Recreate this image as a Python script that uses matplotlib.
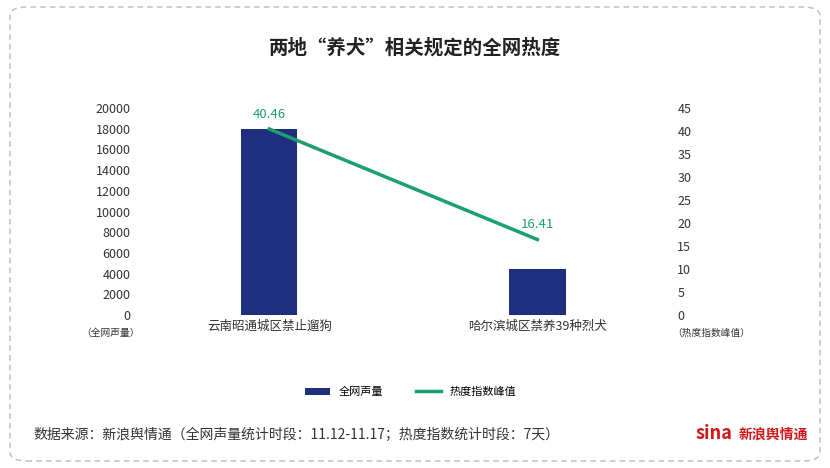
import matplotlib
matplotlib.use("Agg")
import matplotlib.pyplot as plt
from matplotlib.patches import FancyBboxPatch

plt.rcParams['font.family'] = ['Noto Sans CJK SC', 'DejaVu Sans']

categories = ["云南昭通城区禁止遛狗", "哈尔滨城区禁养39种烈犬"]
volume = [18000, 4400]
heat = [40.46, 16.41]
bar_color = "#1f2f80"
line_color = "#1aa06e"

fig = plt.figure(figsize=(8.3, 4.68), dpi=100)
fig.patch.set_facecolor("white")
border = FancyBboxPatch((0.012, 0.015), 0.976, 0.97, boxstyle="round,pad=0,rounding_size=0.02",
                        transform=fig.transFigure, fill=False, ec="#bbbbbb", ls=(0, (4, 3)), lw=1)
fig.patches.append(border)

ax = fig.add_axes([0.163, 0.327, 0.633, 0.442])
x = list(range(len(categories)))
ax.bar(x, volume, width=0.21, color=bar_color, label="全网声量", zorder=2)
ax.set_ylim(0, 20000)
ax.set_yticks(range(0, 20001, 2000))
ax.set_xlim(-0.5, 1.46)
ax.set_xticks(x)
ax.set_xticklabels(categories, fontsize=9, color="#333333")
for s in ax.spines.values():
    s.set_visible(False)
ax.tick_params(length=0, labelsize=9, colors="#333333")

ax2 = ax.twinx()
ax2.plot(x, heat, color=line_color, lw=2.5, label="热度指数峰值", zorder=3)
ax2.set_ylim(0, 45)
ax2.set_yticks(range(0, 46, 5))
for s in ax2.spines.values():
    s.set_visible(False)
ax2.tick_params(length=0, labelsize=9, colors="#333333", pad=12)
for xi, h in zip(x, heat):
    ax2.text(xi, h + 1.8, f"{h:.2f}", ha="center", va="bottom", color=line_color, fontsize=9.5)

fig.text(0.133, 0.283, "（全网声量）", fontsize=7, color="#333333", ha="center")
fig.text(0.857, 0.283, "（热度指数峰值）", fontsize=7, color="#333333", ha="center")

fig.text(0.5, 0.885, "两地“养犬”相关规定的全网热度", fontsize=14, fontweight="bold", ha="center", color="#222222")

h1, l1 = ax.get_legend_handles_labels()
h2, l2 = ax2.get_legend_handles_labels()
fig.legend(h1 + h2, l1 + l2, loc="center", bbox_to_anchor=(0.495, 0.162), ncol=2, frameon=False,
           fontsize=8, handlelength=2.2, columnspacing=3)

fig.text(0.04, 0.063, "数据来源：新浪舆情通（全网声量统计时段：11.12-11.17；热度指数统计时段：7天）",
         fontsize=10, color="#333333")
fig.text(0.838, 0.063, "sina", fontsize=13, color="#d0181b", fontweight="bold", style="italic", ha="left")
fig.text(0.89, 0.063, "新浪舆情通", fontsize=10, color="#d0181b", fontweight="bold", ha="left")

fig.savefig("out.png", dpi=100)
